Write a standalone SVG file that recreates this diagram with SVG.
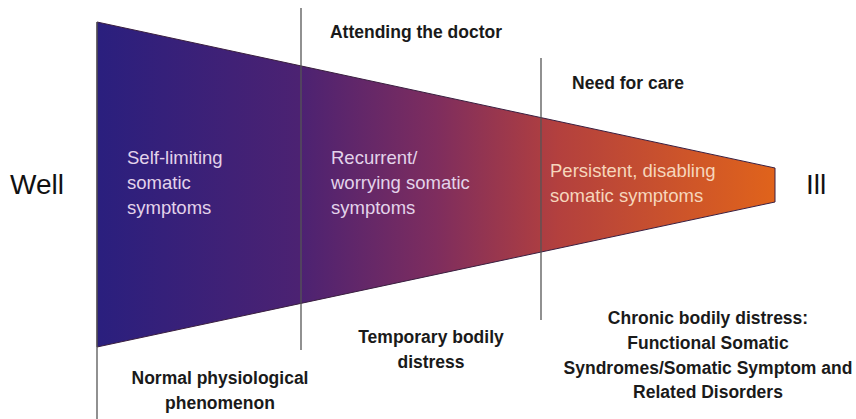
<svg xmlns="http://www.w3.org/2000/svg" width="856" height="419" viewBox="0 0 856 419">
<style>
.lbl{font-family:"Liberation Sans",Arial,sans-serif;font-size:17.5px;fill:#1a1a1a;font-weight:bold;text-anchor:middle}
.in{font-family:"Liberation Sans",Arial,sans-serif;font-size:18.5px;fill:#e3d3ea}
.in3{fill:#f6d6bc}
.end{font-family:"Liberation Sans",Arial,sans-serif;font-size:28px;fill:#111}
.ln{stroke:#555;stroke-width:1.3;fill:none}
</style>
<defs>
<linearGradient id="g" x1="97" y1="0" x2="775" y2="0" gradientUnits="userSpaceOnUse">
<stop offset="0" stop-color="#2a1f7e"/>
<stop offset="0.3" stop-color="#4c2272"/>
<stop offset="0.5" stop-color="#7e2d5e"/>
<stop offset="0.68" stop-color="#b3403e"/>
<stop offset="1" stop-color="#e0631b"/>
</linearGradient>
</defs>
<g id="funnel">
<polygon points="97,22 775,168 775,202 97,347" fill="url(#g)" stroke="#3a1f40" stroke-width="1"/>
</g>
<g id="connectors">
<line class="ln" x1="97" y1="22" x2="97" y2="419"/>
<line class="ln" x1="301" y1="8" x2="301" y2="350"/>
<line class="ln" x1="541" y1="58" x2="541" y2="320"/>
</g>
<g id="well"><text class="end" x="10" y="194">Well</text></g>
<g id="ill"><text class="end" x="806" y="194">Ill</text></g>
<g id="stage1">
<text class="in" x="127" y="164">Self-limiting</text>
<text class="in" x="127" y="189">somatic</text>
<text class="in" x="127" y="214">symptoms</text>
</g>
<g id="stage2">
<text class="in" x="331" y="164">Recurrent/</text>
<text class="in" x="331" y="189">worrying somatic</text>
<text class="in" x="331" y="214">symptoms</text>
</g>
<g id="stage3">
<text class="in in3" x="550" y="177">Persistent, disabling</text>
<text class="in in3" x="550" y="202">somatic symptoms</text>
</g>
<g id="attending"><text class="lbl" x="416" y="38">Attending the doctor</text></g>
<g id="needcare"><text class="lbl" x="628" y="89">Need for care</text></g>
<g id="normal">
<text class="lbl" x="220" y="384">Normal physiological</text>
<text class="lbl" x="220" y="409">phenomenon</text>
</g>
<g id="temporary">
<text class="lbl" x="431" y="343">Temporary bodily</text>
<text class="lbl" x="431" y="368">distress</text>
</g>
<g id="chronic">
<text class="lbl" x="708" y="324">Chronic bodily distress:</text>
<text class="lbl" x="708" y="349">Functional Somatic</text>
<text class="lbl" x="708" y="374">Syndromes/Somatic Symptom and</text>
<text class="lbl" x="708" y="398">Related Disorders</text>
</g>
</svg>
